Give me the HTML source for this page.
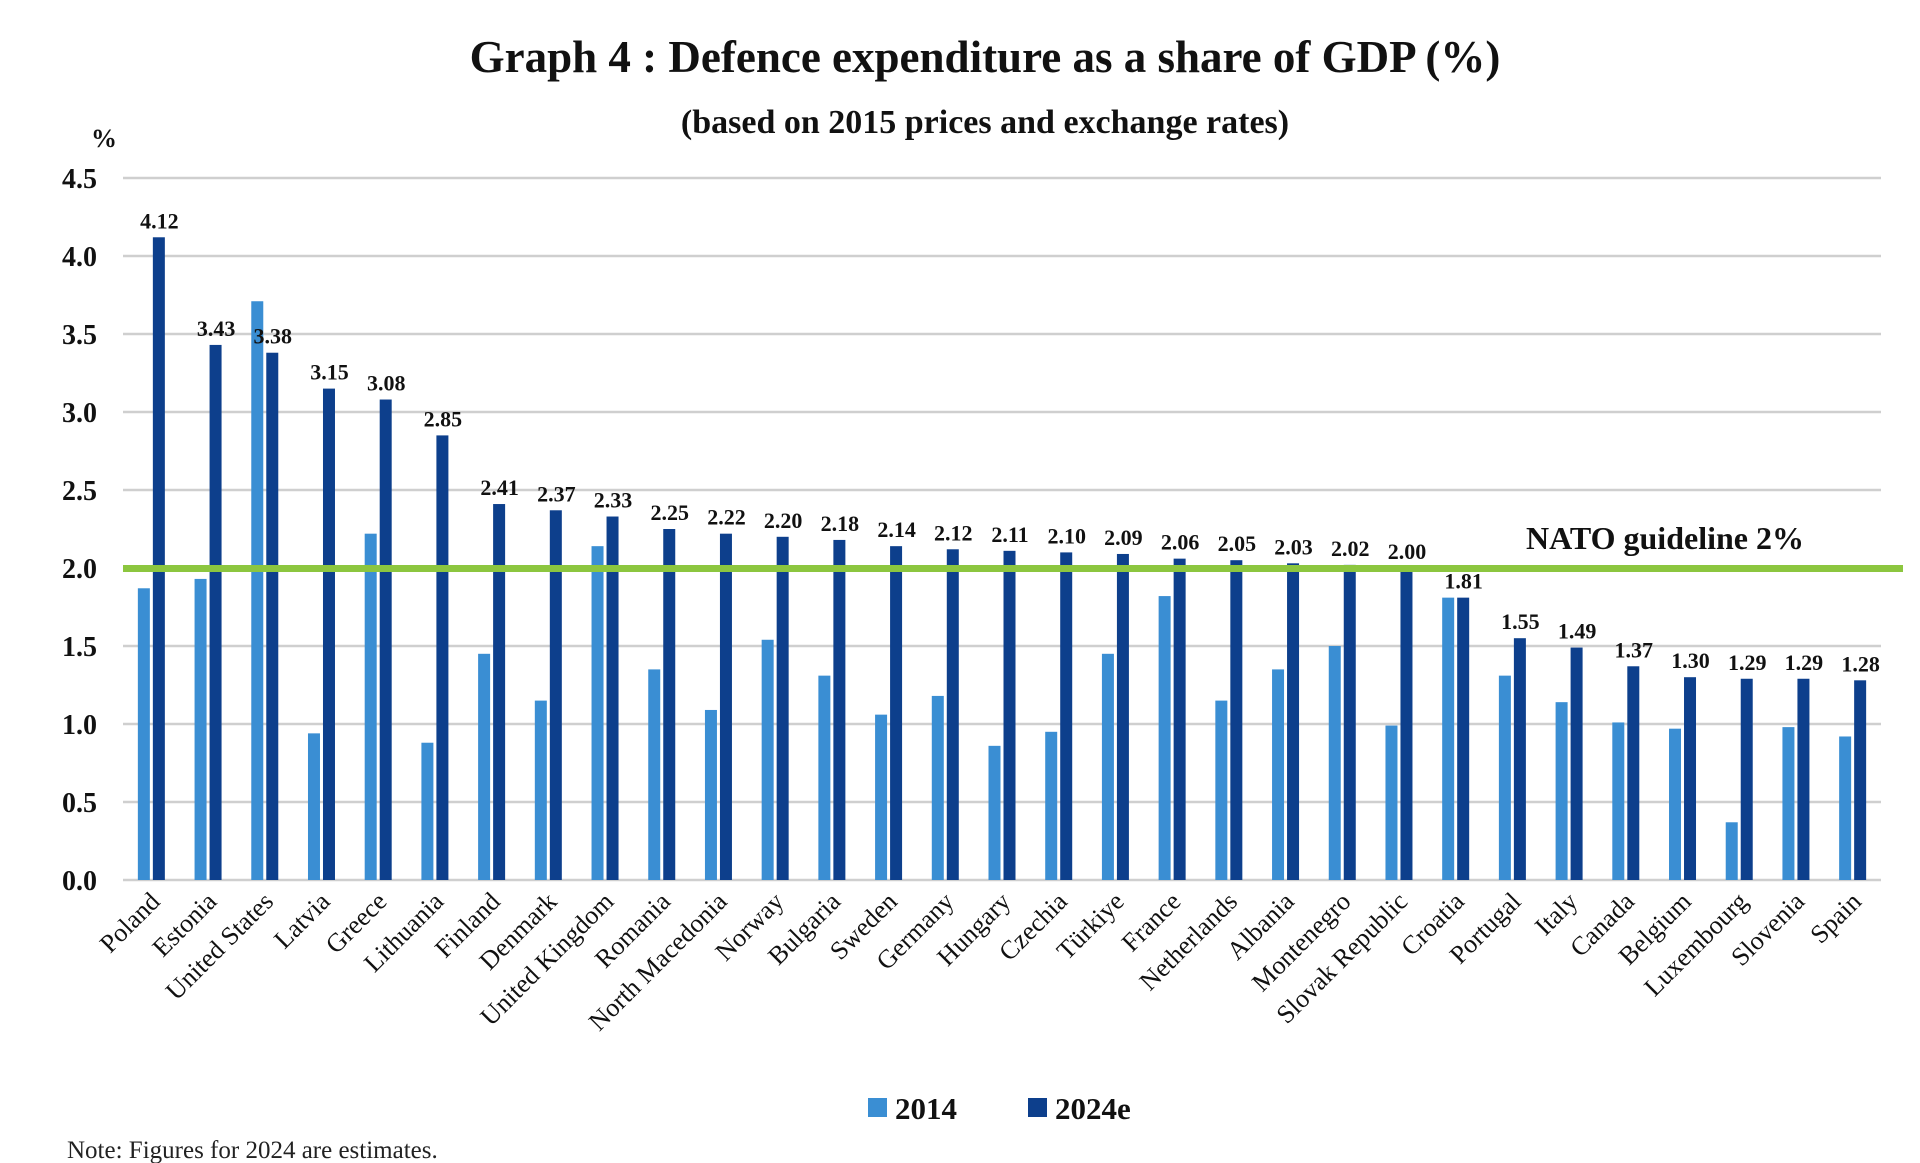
<!DOCTYPE html>
<html><head><meta charset="utf-8"><style>
html,body{margin:0;padding:0;background:#fff;}
svg{display:block;font-family:"Liberation Serif",serif;}
</style></head><body>
<svg width="1920" height="1163" viewBox="0 0 1920 1163" xmlns="http://www.w3.org/2000/svg">
<text x="985" y="72" text-anchor="middle" font-size="45" font-weight="bold" fill="#111">Graph 4 : Defence expenditure as a share of GDP (%)</text>
<text x="985" y="133" text-anchor="middle" font-size="34" font-weight="bold" fill="#111">(based on 2015 prices and exchange rates)</text>
<text x="104" y="147" text-anchor="middle" font-size="26" font-weight="bold" fill="#111">%</text>
<g id="grid" stroke="#cfcfcf" stroke-width="2.5"></g>
<g id="ticks" font-size="28" font-weight="bold" fill="#111" text-anchor="end"></g>
<g id="bars"></g>
<rect x="123" y="565" width="1780" height="7" fill="#8cc63f"/>
<text x="1526" y="549" font-size="32" font-weight="bold" fill="#111">NATO guideline 2%</text>
<g id="vals" font-size="22" font-weight="bold" fill="#111" text-anchor="middle"></g>
<g id="labs" font-size="26" fill="#111" text-anchor="end"></g>
<rect x="868" y="1098" width="19" height="19" fill="#3a8ed3"/>
<text x="895" y="1119" font-size="31" font-weight="bold" fill="#111">2014</text>
<rect x="1028" y="1098" width="19" height="19" fill="#0d3f8c"/>
<text x="1055" y="1119" font-size="31" font-weight="bold" fill="#111">2024e</text>
<text x="67" y="1158" font-size="25" fill="#222">Note: Figures for 2024 are estimates.</text>
</svg>
<script>
var ns="http://www.w3.org/2000/svg";
function el(t,a,p,txt){var e=document.createElementNS(ns,t);for(var k in a)e.setAttribute(k,a[k]);if(txt!==undefined)e.textContent=txt;document.getElementById(p).appendChild(e);return e;}
var y0=880,pu=156,L=123,R=1881;
for(var i=0;i<=9;i++){var v=i*0.5,y=y0-v*pu;el('line',{x1:L,x2:R,y1:y,y2:y},'grid');el('text',{x:97,y:y+10},'ticks',v.toFixed(1));}
var d=[["Poland",1.87,4.12],["Estonia",1.93,3.43],["United States",3.71,3.38],["Latvia",0.94,3.15],["Greece",2.22,3.08],["Lithuania",0.88,2.85],["Finland",1.45,2.41],["Denmark",1.15,2.37],["United Kingdom",2.14,2.33],["Romania",1.35,2.25],["North Macedonia",1.09,2.22],["Norway",1.54,2.20],["Bulgaria",1.31,2.18],["Sweden",1.06,2.14],["Germany",1.18,2.12],["Hungary",0.86,2.11],["Czechia",0.95,2.10],["Türkiye",1.45,2.09],["France",1.82,2.06],["Netherlands",1.15,2.05],["Albania",1.35,2.03],["Montenegro",1.50,2.02],["Slovak Republic",0.99,2.00],["Croatia",1.81,1.81],["Portugal",1.31,1.55],["Italy",1.14,1.49],["Canada",1.01,1.37],["Belgium",0.97,1.30],["Luxembourg",0.37,1.29],["Slovenia",0.98,1.29],["Spain",0.92,1.28]];
var w=(R-L)/d.length;
d.forEach(function(r,i){var c=L+w*(i+0.5);
el('rect',{x:c-13.5,y:y0-r[1]*pu,width:12,height:r[1]*pu,fill:'#3a8ed3'},'bars');
el('rect',{x:c+1.5,y:y0-r[2]*pu,width:12,height:r[2]*pu,fill:'#0d3f8c'},'bars');
el('text',{x:c+8,y:y0-r[2]*pu-9},'vals',r[2].toFixed(2));
el('text',{x:c+10,y:903,transform:'rotate(-45 '+(c+10)+' 903)'},'labs',r[0]);
});
</script>
</body></html>
